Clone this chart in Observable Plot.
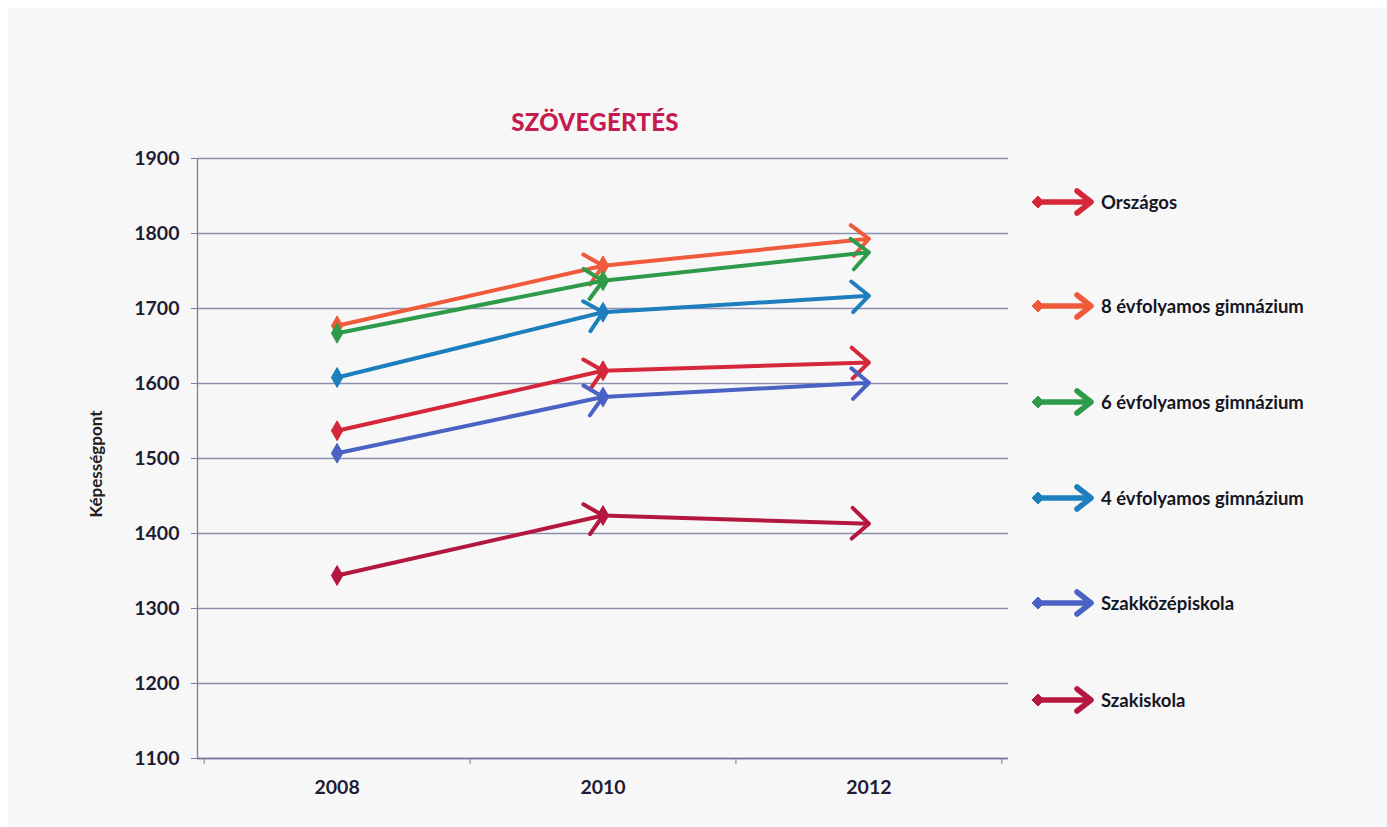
<!DOCTYPE html>
<html>
<head>
<meta charset="utf-8">
<script src="https://cdn.jsdelivr.net/npm/d3@7"></script>
<script src="https://cdn.jsdelivr.net/npm/@observablehq/plot@0.6"></script>
<style>
  html, body { margin: 0; padding: 0; background: #ffffff; }
  #wrap { position: relative; width: 1387px; height: 827px; overflow: hidden; font-family: Lato, "DejaVu Sans", sans-serif; }
  #bg { position: absolute; left: 8px; top: 8px; width: 1379px; height: 819px; background: #f8f7f8; }
  #chart { position: absolute; left: 0; top: 0; }
  #title { position: absolute; left: 495px; width: 200px; top: 107px; text-align: center; font-size: 24px; font-weight: 900; color: #c41c4f; letter-spacing: 0.3px; }
  #ylabel { position: absolute; left: 95px; top: 464px; transform: translate(-50%, -50%) rotate(-90deg); font-size: 17px; font-weight: 700; color: #222; white-space: nowrap; }
  #legend { position: absolute; left: 1030px; top: 0; }
  .item { position: absolute; left: 0; display: flex; align-items: center; white-space: nowrap; font-size: 18.5px; font-weight: 700; color: #15151f; }
  .item svg { margin-right: 5px; }
</style>
</head>
<body>
<div id="wrap">
  <div id="bg"></div>
  <div id="chart"></div>
  <div id="title"></div>
  <div id="ylabel"></div>
  <div id="legend"></div>
</div>
<script>
// ---- data ----
const titleText = "SZÖVEGÉRTÉS";
const yLabel = "Képességpont";
const years = [2008, 2010, 2012];
const xBoundaryTicks = [2007, 2009, 2011, 2013];
const xDomain = [2006.95, 2013.05];
const yTicks = [1100, 1200, 1300, 1400, 1500, 1600, 1700, 1800, 1900];
const seriesNames = ["Országos", "8 évfolyamos gimnázium", "6 évfolyamos gimnázium", "4 évfolyamos gimnázium", "Szakközépiskola", "Szakiskola"];
const seriesColors = ["#d62639", "#ef5a3b", "#2e9b4b", "#1d7fbd", "#4a62c4", "#b3173f"];
const orszagos   = [1537, 1617, 1628];
const gimn8      = [1677, 1757, 1793];
const gimn6      = [1667, 1737, 1775];
const gimn4      = [1608, 1695, 1717];
const szakkozep  = [1507, 1582, 1601];
const szakiskola = [1344, 1424, 1413];
const seriesValues = [orszagos, gimn8, gimn6, gimn4, szakkozep, szakiskola];
const legendTops = [202, 306, 402, 498, 603, 700];

// ---- build tables ----
const segments = [];
const starts = [];
seriesValues.forEach((vals, s) => {
  for (let i = 0; i < vals.length - 1; i++) {
    segments.push({series: seriesNames[s], x1: years[i], y1: vals[i], x2: years[i + 1], y2: vals[i + 1]});
    starts.push({series: seriesNames[s], x: years[i], y: vals[i]});
  }
});

const W = 1030, H = 827;
const plot = Plot.plot({
  width: W,
  height: H,
  marginLeft: 197,
  marginRight: 22,
  marginTop: 158,
  marginBottom: 69,
  style: {background: "transparent", fontFamily: "Lato, 'DejaVu Sans', sans-serif"},
  x: {type: "linear", domain: xDomain},
  y: {domain: [1100, 1900]},
  color: {domain: seriesNames, range: seriesColors},
  marks: [
    Plot.gridY(yTicks, {stroke: "#8a8fb0", strokeOpacity: 1, strokeWidth: 1.3}),
    Plot.ruleX([xDomain[0]], {stroke: "#7a7f9f", strokeWidth: 1.3}),
    Plot.ruleY([yTicks[0]], {stroke: "#6f7494", strokeWidth: 1.5}),
    Plot.axisY({ticks: yTicks, tickSize: 6, tickPadding: 12, label: null, fontSize: 19.5, fontWeight: 700, fill: "#1c1c33", stroke: "#7a7f9f", tickFormat: d => String(d)}),
    Plot.axisX({ticks: xBoundaryTicks, tickSize: 6, tickFormat: () => "", label: null, stroke: "#7a7f9f"}),
    Plot.axisX({ticks: years, tickSize: 0, tickPadding: 22, label: null, fontSize: 19.5, fontWeight: 700, fill: "#1c1c33", tickFormat: d => String(d)}),
    Plot.arrow(segments, {x1: "x1", y1: "y1", x2: "x2", y2: "y2", stroke: "series", strokeWidth: 4, headLength: 8.5, headAngle: 85, strokeLinecap: "round", strokeLinejoin: "round"}),
    Plot.dot(starts, {x: "x", y: "y", fill: "series", symbol: "diamond", r: 6, stroke: "series", strokeWidth: 1})
  ]
});
document.getElementById("chart").appendChild(plot);
document.getElementById("title").textContent = titleText;
document.getElementById("ylabel").textContent = yLabel;

// ---- legend ----
const legend = d3.select("#legend");
seriesNames.forEach((name, i) => {
  const item = legend.append("div").attr("class", "item").style("top", (legendTops[i] - 14) + "px");
  const svg = item.append("svg").attr("width", 66).attr("height", 28);
  const c = seriesColors[i];
  svg.append("line").attr("x1", 8).attr("y1", 14).attr("x2", 60).attr("y2", 14)
    .attr("stroke", c).attr("stroke-width", 5.5).attr("stroke-linecap", "round");
  svg.append("path").attr("d", "M47,3 L61,14 L47,25").attr("fill", "none")
    .attr("stroke", c).attr("stroke-width", 5.5).attr("stroke-linecap", "round").attr("stroke-linejoin", "round");
  svg.append("path").attr("d", "M2,14 L8,8 L14,14 L8,20 Z").attr("fill", c).attr("stroke", c).attr("stroke-width", 1);
  item.append("span").text(name);
});
</script>
</body>
</html>
